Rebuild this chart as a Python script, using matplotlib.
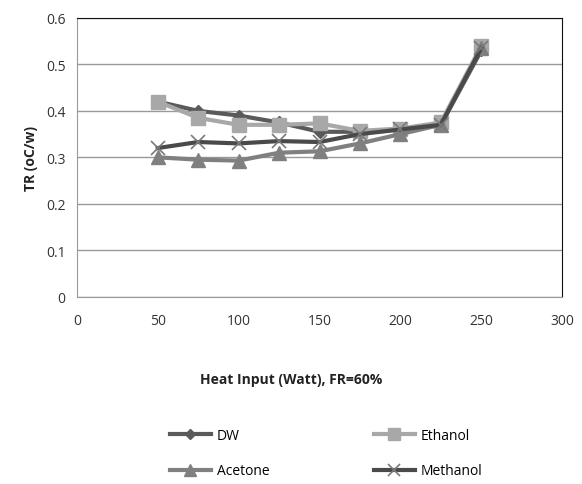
import matplotlib
matplotlib.use('Agg')
from matplotlib import pyplot as plt

heat = [50, 75, 100, 125, 150, 175, 200, 225, 250]
dw = [0.42, 0.40, 0.39, 0.375, 0.355, 0.355, 0.36, 0.37, 0.53]
ethanol = [0.42, 0.385, 0.37, 0.37, 0.373, 0.357, 0.362, 0.375, 0.54]
acetone = [0.30, 0.295, 0.293, 0.31, 0.313, 0.33, 0.35, 0.37, 0.535]
methanol = [0.32, 0.333, 0.33, 0.335, 0.333, 0.35, 0.36, 0.37, 0.535]

plt.rcParams['font.family'] = ['Open Sans', 'DejaVu Sans']

fig = plt.figure(figsize=(5.82, 4.85), dpi=100)
ax = fig.add_axes([0.132, 0.386, 0.834, 0.575])

l_dw, = ax.plot(heat, dw, color='#5a5a5a', lw=3, marker='D', ms=6, label='DW')
l_et, = ax.plot(heat, ethanol, color='#a8a8a8', lw=3, marker='s', ms=10, label='Ethanol')
l_ac, = ax.plot(heat, acetone, color='#808080', lw=3, marker='^', ms=10, label='Acetone')
l_me, = ax.plot(heat, methanol, color='#4a4a4a', lw=3, marker='x', ms=10, mew=1.2,
                mec='#7a7a7a', label='Methanol')

ax.set_xlim(0, 300)
ax.set_ylim(0, 0.6)
ax.set_xticks([0, 50, 100, 150, 200, 250, 300])
ax.set_yticks([0, 0.1, 0.2, 0.3, 0.4, 0.5, 0.6])
ax.set_yticklabels(['0', '0.1', '0.2', '0.3', '0.4', '0.5', '0.6'])
ax.yaxis.grid(True, color='#999999', lw=1)
ax.set_axisbelow(True)
ax.tick_params(length=0, labelsize=10, colors='#333333', pad=8)
ax.tick_params(axis='x', pad=12)
for s in ['left', 'bottom']:
    ax.spines[s].set_color('#999999')
for s in ['top', 'right']:
    ax.spines[s].set_color('#111111')

ax.set_ylabel('TR (oC/w)', fontweight='bold', fontsize=10, color='#222222', labelpad=6)
fig.text(0.5, 0.216, 'Heat Input (Watt), FR=60%', fontweight='bold', fontsize=10,
         color='#222222', ha='center', va='center')

# column-first fill, so order gives rows DW/Ethanol and Acetone/Methanol
fig.legend([l_dw, l_ac, l_et, l_me], ['DW', 'Acetone', 'Ethanol', 'Methanol'],
           loc='upper left', bbox_to_anchor=(0.27, 0.142),
           ncol=2, frameon=False, fontsize=10, handlelength=3, handletextpad=0.4,
           columnspacing=7.5, labelspacing=1.5, markerscale=0.8)

fig.savefig('out.png', dpi=100)
